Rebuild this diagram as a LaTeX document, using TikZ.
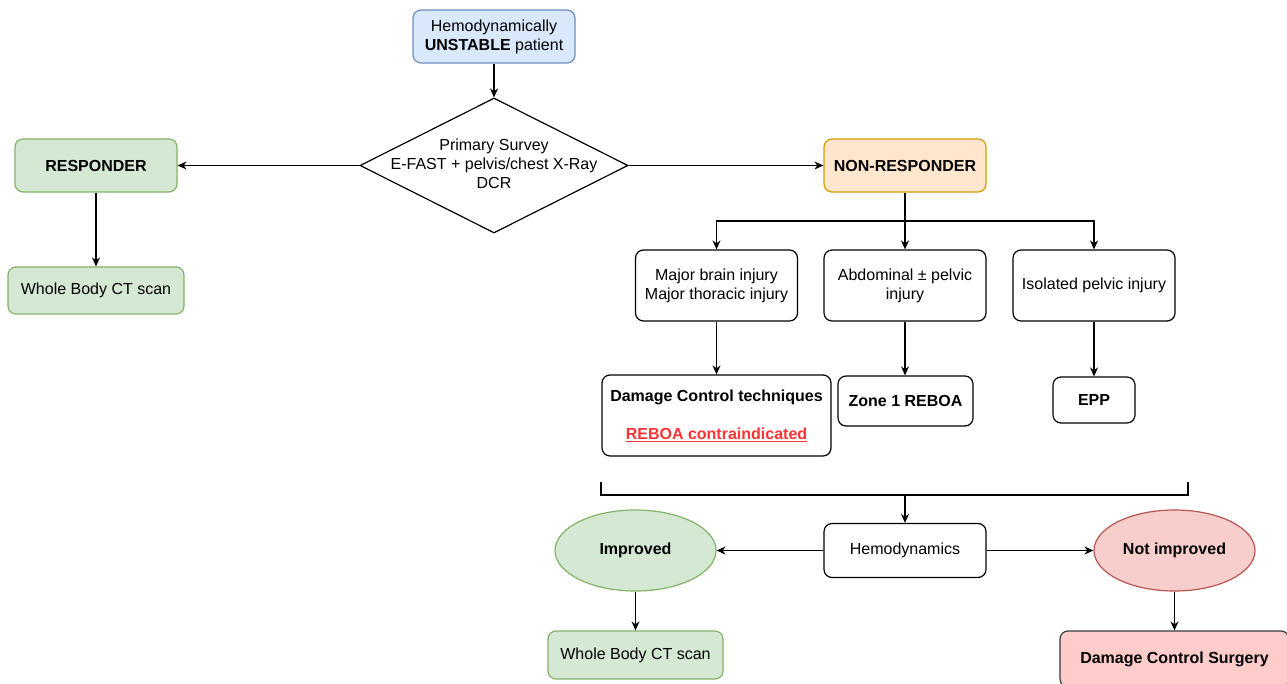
\documentclass[tikz,border=0pt]{standalone}
\usepackage{fontspec}
\setmainfont{Liberation Sans}
\usetikzlibrary{shapes.geometric,arrows.meta}
\definecolor{bluefill}{HTML}{DAE8FC}
\definecolor{blueline}{HTML}{6C8EBF}
\definecolor{greenfill}{HTML}{D5E8D4}
\definecolor{greenline}{HTML}{82B366}
\definecolor{orangefill}{HTML}{FFE6CC}
\definecolor{orangeline}{HTML}{D79B00}
\definecolor{redfill}{HTML}{F8CECC}
\definecolor{redline}{HTML}{B85450}
\definecolor{pinkfill}{HTML}{FFCCCC}
\definecolor{darkline}{HTML}{36393D}
\definecolor{alertred}{HTML}{FF3333}
\begin{document}
\begin{tikzpicture}[x=1pt,y=-1pt,
  every node/.style={font=\fontsize{16}{19}\selectfont, align=center, inner sep=2pt},
  box/.style={draw, rounded corners=8pt, line width=1.2pt, minimum width=#1},
  box/.default=162pt,
  conn/.style={line width=1.2pt, -{Stealth[length=9pt,width=8pt]}},
  plainconn/.style={line width=1.2pt},
  oval/.style={draw, ellipse, line width=1.2pt, minimum width=161pt, minimum height=81pt}
]
\useasboundingbox (0,0) rectangle (1287,684);
\clip (0,0) rectangle (1287,684);

\node[box, fill=bluefill, draw=blueline, minimum height=53pt] (top) at (494,36.5) {Hemodynamically\\\textbf{UNSTABLE} patient};
\node[draw, diamond, line width=1.2pt, minimum width=268pt, minimum height=135pt, inner sep=0pt] (dia) at (494,165.5) {};
\node (diatext) at (494,163.5) {Primary Survey\\E-FAST + pelvis/chest X-Ray\\DCR};

\node[box, fill=greenfill, draw=greenline, minimum height=53pt] (resp) at (96,165.5) {\textbf{RESPONDER}};
\node[box=176pt, fill=greenfill, draw=greenline, minimum height=47pt] (wbct1) at (96,290.5) {Whole Body CT scan};

\node[box, fill=orangefill, draw=orangeline, minimum height=53pt] (nonresp) at (905,165.5) {\textbf{NON-RESPONDER}};

\node[box, minimum height=71pt] (brain) at (716.5,285.5) {Major brain injury\\Major thoracic injury};
\node[box, minimum height=71pt] (abd) at (905,285.5) {Abdominal ± pelvic\\injury};
\node[box, minimum height=71pt] (iso) at (1094,285.5) {Isolated pelvic injury};

\node[box=229pt, minimum height=81pt] (dct) at (716.5,415.5) {\textbf{Damage Control techniques}\\[19pt]\textcolor{alertred}{\underline{\textbf{REBOA contraindicated}}}};
\node[box=135pt, minimum height=50pt] (zone) at (905.5,401) {\textbf{Zone 1 REBOA}};
\node[box=82pt, minimum height=46pt] (epp) at (1094,400) {\textbf{EPP}};

\node[box, minimum height=54pt] (hemo) at (905,550.5) {Hemodynamics};
\node[oval, fill=greenfill, draw=greenline] (imp) at (635.5,550.5) {\textbf{Improved}};
\node[oval, fill=redfill, draw=redline] (notimp) at (1174.5,550.5) {\textbf{Not improved}};

\node[box=175pt, fill=greenfill, draw=greenline, minimum height=48pt] (wbct2) at (635.5,655) {Whole Body CT scan};
\node[box=229pt, fill=pinkfill, draw=darkline, minimum height=56pt] (dcs) at (1174.5,659) {\textbf{Damage Control Surgery}};

\coordinate (split) at (905,221);
\coordinate (bl) at (601,482);
\coordinate (blb) at (601,495);
\coordinate (brb) at (1188,495);
\coordinate (br) at (1188,482);
\coordinate (bm) at (905,495);

\draw[conn] (top.south) -- (dia.north);
\draw[conn] (dia.west) -- (resp.east);
\draw[conn] (dia.east) -- (nonresp.west);
\draw[conn] (resp.south) -- (wbct1.north);
\draw[plainconn] (nonresp.south) -- (split);
\draw[conn] (split) -| (brain.north);
\draw[conn] (split) -- (abd.north);
\draw[conn] (split) -| (iso.north);
\draw[conn] (brain.south) -- (dct.north);
\draw[conn] (abd.south) -- (zone.north -| abd.south);
\draw[conn] (iso.south) -- (epp.north);
\draw[plainconn] (bl) -- (blb) -- (brb) -- (br);
\draw[conn] (bm) -- (hemo.north);
\draw[conn] (hemo.west) -- (imp.east);
\draw[conn] (hemo.east) -- (notimp.west);
\draw[conn] (imp.south) -- (wbct2.north);
\draw[conn] (notimp.south) -- (dcs.north);
\end{tikzpicture}
\end{document}
